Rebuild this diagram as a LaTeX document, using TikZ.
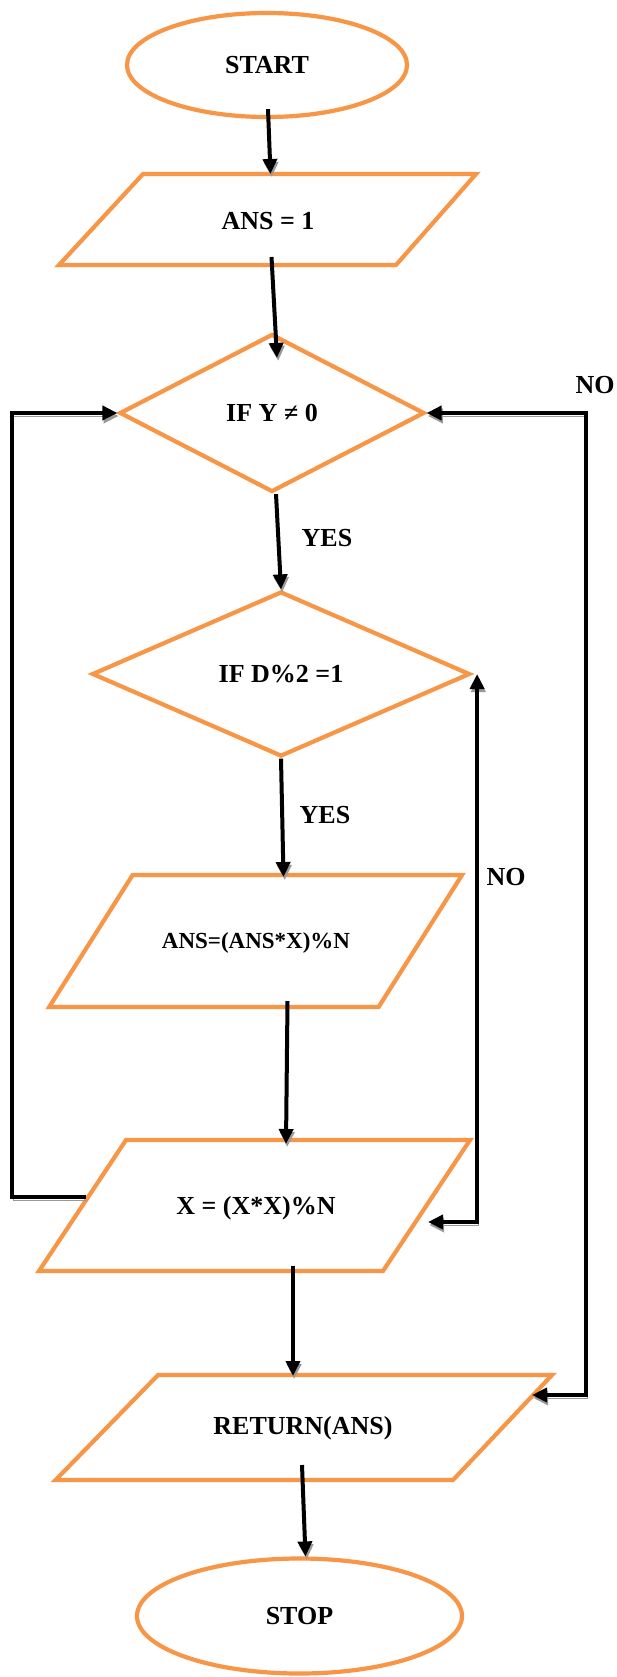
\documentclass[tikz,border=0pt]{standalone}
\usepackage{fontspec}
\setmainfont{Liberation Serif}
\usetikzlibrary{shapes.geometric,arrows.meta,calc}
\definecolor{flowor}{HTML}{F79646}
\begin{document}
\begin{tikzpicture}[x=1pt,y=-1pt,
  >={Triangle[length=15pt,width=14pt]},
  box/.style={draw=flowor, line width=4.2pt, inner sep=0pt, font=\fontsize{26}{30}\selectfont\bfseries},
  pbox/.style={draw=flowor, line width=4.2pt, line join=miter},
  txt/.style={font=\fontsize{26}{30}\selectfont\bfseries},
  term/.style={box, ellipse},
  dec/.style={box, diamond},
  conn/.style={line width=4pt, ->, preaction={draw=black!40, transform canvas={shift={(1.2pt,-3pt)}}}},
  dconn/.style={line width=4pt, <->, preaction={draw=black!40, transform canvas={shift={(1.2pt,-3pt)}}}},
  lbl/.style={font=\fontsize{26}{30}\selectfont\bfseries}
]
\fill[white] (0,0) rectangle (616,1677);
\useasboundingbox (0,0) rectangle (616,1677);

% terminals and decisions
\node[term, minimum width=280pt, minimum height=104pt] (start) at (267,65) {START};
\node[dec, minimum width=305pt, minimum height=158pt] (d1) at (272,413) {IF Y ≠ 0};
\node[dec, minimum width=378pt, minimum height=165pt] (d2) at (281,674) {IF D\%2 =1};
\node[term, minimum width=325pt, minimum height=115pt] (stop) at (299.5,1616) {STOP};

% parallelograms
\draw[pbox] (143,174) -- (476,174) -- (396,265) -- (59,265) -- cycle;
\node[txt] (ans1) at (268,221) {ANS = 1};
\draw[pbox] (132.6,875) -- (462,875) -- (378.6,1007) -- (49.2,1007) -- cycle;
\node[txt, font=\fontsize{23}{27}\selectfont\bfseries] (ans2) at (256,943) {ANS=(ANS*X)\%N};
\draw[pbox] (126,1140) -- (470,1140) -- (383,1271) -- (39,1271) -- cycle;
\node[txt] (xbox) at (256,1208) {X = (X*X)\%N};
\draw[pbox] (158,1375) -- (552,1375) -- (453,1480) -- (55.6,1480) -- cycle;
\node[txt] (ret) at (303,1428) {RETURN(ANS)};

% labels
\node[lbl] (no1) at (595,385) {NO};
\node[lbl] (yes1) at (327,538) {YES};
\node[lbl] (yes2) at (325,815) {YES};
\node[lbl] (no2) at (506,877) {NO};

% connector points
\coordinate (ans1top) at (270.5,174);
\coordinate (ans1out) at (271.5,257);
\coordinate (ans2top) at (283.5,877);
\coordinate (ans2out) at (287.5,1001);
\coordinate (xtop) at (286,1144);
\coordinate (xout) at (293,1265.5);
\coordinate (rettop) at (293,1376);
\coordinate (retout) at (302,1465);
\coordinate (xl) at (86,1197);
\coordinate (xr) at (428,1222);
\coordinate (rr) at (532,1395);
\coordinate (lrail) at (12,800);
\coordinate (rrail) at (586,800);

\draw[conn] ([xshift=1pt,yshift=10pt]start.south) -- (ans1top);
\draw[conn] (ans1out) -- ([xshift=5pt,yshift=-26pt]d1.north);
\draw[conn] ([xshift=4pt]d1.south) -- (d2.north);
\draw[conn] (d2.south) -- (ans2top);
\draw[conn] (ans2out) -- (xtop);
\draw[conn] (xout) -- (rettop);
\draw[conn] (retout) -- ([xshift=6pt]stop.north);

\draw[conn] (xl) -| (lrail) |- (d1.west);
\draw[dconn] (d1.east) -| (rrail) |- (rr);
\draw[dconn] ([xshift=5pt]d2.east) |- (xr);
\end{tikzpicture}
\end{document}
